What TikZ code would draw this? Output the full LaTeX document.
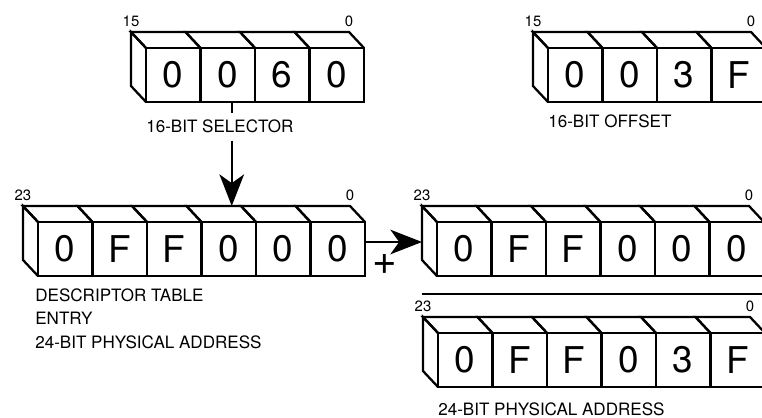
\documentclass[tikz,border=0pt]{standalone}
\usepackage{fontspec}
\setmainfont{TeX Gyre Heros}
\usetikzlibrary{arrows.meta,calc,positioning}

\begin{document}
\begin{tikzpicture}[
  line join=miter,
  >={Stealth[length=18pt,width=14pt,inset=5pt]},
  edge/.style={draw=black,line width=1.3pt},
  cellbox/.style={edge,fill=white,inner sep=0pt,outer sep=0pt,
    minimum width=\CellW cm,minimum height=\CellH cm,
    font=\fontsize{21}{24}\selectfont},
  bitno/.style={inner sep=0pt,font=\fontsize{8.5}{9}\selectfont},
  caption text/.style={inner sep=0pt,font=\fontsize{9.7}{13.6}\selectfont},
  link/.style={line width=1.1pt},
  rule/.style={line width=1.2pt}
]

% One register cell is a box with its top face and the left end drawn
% as an oblique block, the way the bytes of an address are stacked.
\def\CellW{1.09}
\def\CellH{1.08}
\def\DepthX{0.30}
\def\DepthY{0.32}

\newcommand{\DrawRegister}[5]{%
  \coordinate (#1-back) at ({#2-\DepthX},{#3+\DepthY});
  \foreach \digit [count=\k] in {#5} {
    \node[cellbox,anchor=north west] (#1-\k) at ({#2+(\k-1)*\CellW},#3) {\digit};
    \draw[edge] (#1-\k.north west) -- ++(-\DepthX,\DepthY)
      -- ++(\CellW,0) -- (#1-\k.north east);
    \xdef\LastCell{\k}
  }
  \draw[edge] (#1-1.north west) -- (#1-back) -- ++(0,-\CellH)
    -- (#1-1.south west);
  \node[bitno,above=0.1cm] (#1-hi) at (#1-back) {#4};
  \node[bitno,above=0.1cm] (#1-lo) at ($(#1-\LastCell.north east)+(-\DepthX,\DepthY)$) {0};
}

\useasboundingbox (0,0) rectangle (15.24,8.34);
\clip (0,0) rectangle (15.24,8.34);

% Selector and offset.
\DrawRegister{sel}{2.92}{7.38}{15}{0,0,6,0}
\DrawRegister{off}{10.96}{7.38}{15}{0,0,3,F}

\node[caption text,inner ysep=4pt,anchor=base west] (sellabel) at (2.92,5.68)
  {16-BIT SELECTOR};
\node[caption text,anchor=base west] (offlabel) at (10.96,5.78)
  {16-BIT OFFSET};

% Descriptor table entry.
\DrawRegister{desc}{0.76}{3.90}{23}{0,F,F,0,0,0}
\node[caption text,align=left,anchor=north west] (desclabel) at (0.70,2.58)
  {DESCRIPTOR TABLE\\ENTRY\\24-BIT PHYSICAL ADDRESS};

% Base plus offset.
\DrawRegister{base}{8.74}{3.90}{23}{0,F,F,0,0,0}
\DrawRegister{phys}{8.76}{1.68}{23}{0,F,F,0,3,F}
\node[caption text,anchor=base west] (physlabel) at (8.76,0.04)
  {24-BIT PHYSICAL ADDRESS};

\node[font=\fontsize{24}{26}\selectfont,inner sep=0pt] (plus) at (7.70,3.04) {+};

\coordinate (rule-l) at (8.44,2.46);
\coordinate (rule-r) at (15.30,2.46);
\draw[rule] (rule-l) -- (rule-r);

% Connectors.
\coordinate (selport) at ([xshift=0.08cm]sel-2.south);
\coordinate (descport) at ([yshift=0.14cm]desc-6.east);
\draw[link] (selport) -- (selport |- sellabel.north);
\draw[link,->] (selport |- sellabel.south) -- (selport |- desc-back);
\draw[link,->] (descport) -- (descport -| base-back);

\end{tikzpicture}
\end{document}
